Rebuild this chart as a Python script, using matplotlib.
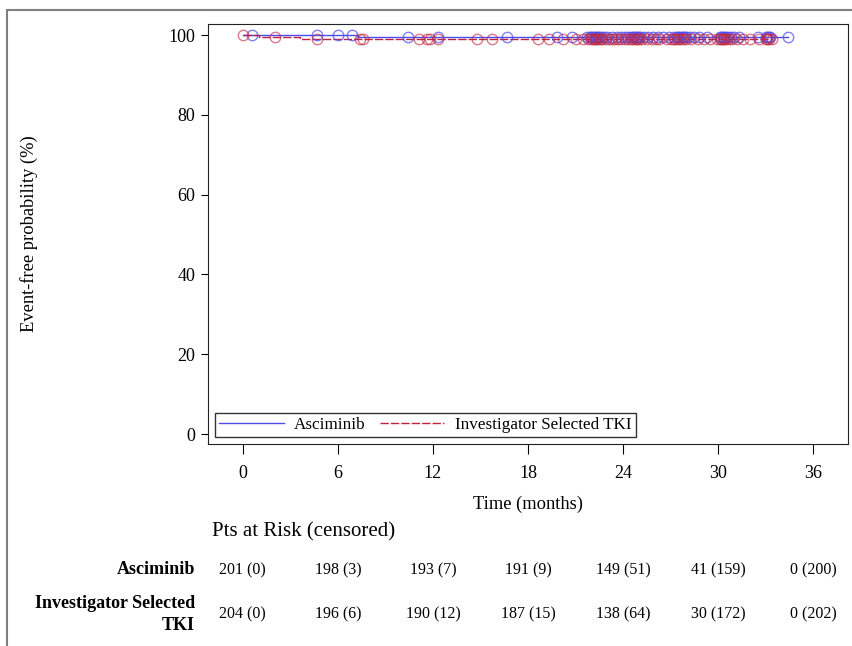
import numpy as np
import matplotlib.pyplot as plt
from matplotlib.patches import Rectangle

plt.rcParams['font.family'] = ['Liberation Serif', 'DejaVu Serif']

# step curves (time in months, event-free %)
asc_t = [0, 7.3, 34.4]
asc_s = [100, 99.5, 99.5]
tki_t = [0, 1.0, 3.6, 33.4]
tki_s = [100, 99.5, 99.0, 99.0]

# censoring times
asc_cens = [0.6, 4.7, 6.0, 6.9, 10.4, 12.3, 16.7, 19.8, 20.8, 21.7, 21.9, 22.0, 22.1,
            22.2, 22.3, 22.4, 22.5, 22.6, 22.8, 23.0, 23.3, 23.6, 23.9, 24.1, 24.3,
            24.5, 24.6, 24.7, 24.8, 24.9, 25.0, 25.1, 25.3, 25.6, 25.9, 26.2, 26.5,
            26.9, 27.2, 27.4, 27.5, 27.6, 27.7, 27.8, 27.9, 28.0, 28.2, 28.5, 28.8,
            29.3, 30.1, 30.2, 30.3, 30.4, 30.5, 30.6, 30.8, 31.0, 31.3, 32.5, 33.0,
            33.1, 33.2, 33.3, 34.4]
tki_cens = [0.0, 2.0, 4.7, 7.4, 7.6, 11.1, 11.6, 11.8, 12.3, 14.8, 15.7, 18.6, 19.3,
            20.2, 21.0, 21.5, 21.8, 22.0, 22.1, 22.2, 22.3, 22.4, 22.6, 22.7, 22.9,
            23.1, 23.3, 23.5, 23.7, 23.9, 24.1, 24.3, 24.5, 24.6, 24.8, 24.9, 25.0,
            25.2, 25.5, 25.8, 26.1, 26.3, 26.8, 27.0, 27.2, 27.3, 27.5, 27.6, 27.8,
            28.0, 28.3, 28.7, 29.1, 29.5, 29.9, 30.1, 30.2, 30.3, 30.4, 30.5, 30.7,
            30.9, 31.2, 31.6, 32.0, 32.6, 33.0, 33.1, 33.2, 33.4]

risk_times = [0, 6, 12, 18, 24, 30, 36]
asc_risk = ['201 (0)', '198 (3)', '193 (7)', '191 (9)', '149 (51)', '41 (159)', '0 (200)']
tki_risk = ['204 (0)', '196 (6)', '190 (12)', '187 (15)', '138 (64)', '30 (172)', '0 (202)']

blue = '#4b4bf0'
red = '#c0243c'


def level_at(t, s, x):
	idx = np.searchsorted(t, x, side='right') - 1
	return np.array(s)[idx]


fig = plt.figure(figsize=(8.53, 6.46), dpi=100)
fig.patches.append(Rectangle((7/853, -0.1), 2, 1 - 10/646 + 0.1, transform=fig.transFigure,
                             fill=False, edgecolor='#808080', linewidth=1.5))

ax = fig.add_axes([208/853, 1 - 444/646, 640/853, 420/646])

ax.step(asc_t, asc_s, where='post', color=blue, lw=1, label='Asciminib')
ax.step(tki_t, tki_s, where='post', color=red, lw=1, dashes=(6, 1.5), label='Investigator Selected TKI')
ax.plot(asc_cens, level_at(asc_t, asc_s, asc_cens), 'o', mfc='none', mec=blue, ms=7.5, mew=1, alpha=0.7)
ax.plot(tki_cens, level_at(tki_t, tki_s, tki_cens), 'o', mfc='none', mec=red, ms=7.5, mew=1, alpha=0.6)

ax.set_xlim(-2.2, 38.2)
ax.set_ylim(-2.5, 102.8)
ax.set_xticks(risk_times)
ax.set_yticks([0, 20, 40, 60, 80, 100])
ax.tick_params(axis='x', length=7, pad=8, labelsize=13)
ax.tick_params(axis='y', length=5, pad=4, labelsize=13)
ax.set_xlabel('Time (months)', fontsize=13.3, labelpad=10)
ax.set_ylabel('Event-free probability (%)', fontsize=13.3)
ax.yaxis.set_label_coords((38 - 208) / 640, 0.5)
for sp in ax.spines.values():
	sp.set_color('#222222')

leg = ax.legend(loc='lower left', ncol=2, fontsize=12.3, frameon=True, fancybox=False,
                edgecolor='black', handlelength=3.8, borderpad=0.25, columnspacing=0.8,
                handletextpad=0.6, borderaxespad=0.4, bbox_to_anchor=(0.0, 0.0))
leg.get_frame().set_linewidth(1)

# at-risk table
fig.text(212/853, 1 - 532/646, 'Pts at Risk (censored)', fontsize=15, va='center', ha='left')
fig.text(195/853, 1 - 570/646, 'Asciminib', fontsize=13, fontweight='bold', ha='right', va='center')
fig.text(195/853, 1 - 604/646, 'Investigator Selected', fontsize=13, fontweight='bold', ha='right', va='center')
fig.text(195/853, 1 - 626/646, 'TKI', fontsize=13, fontweight='bold', ha='right', va='center')
for x, a, b in zip(risk_times, asc_risk, tki_risk):
	xf = fig.transFigure.inverted().transform(ax.transData.transform((x, 0)))[0]
	fig.text(xf, 1 - 570/646, a, fontsize=11.5, ha='center', va='center')
	fig.text(xf, 1 - 614/646, b, fontsize=11.5, ha='center', va='center')

fig.savefig('out.png', dpi=100)
